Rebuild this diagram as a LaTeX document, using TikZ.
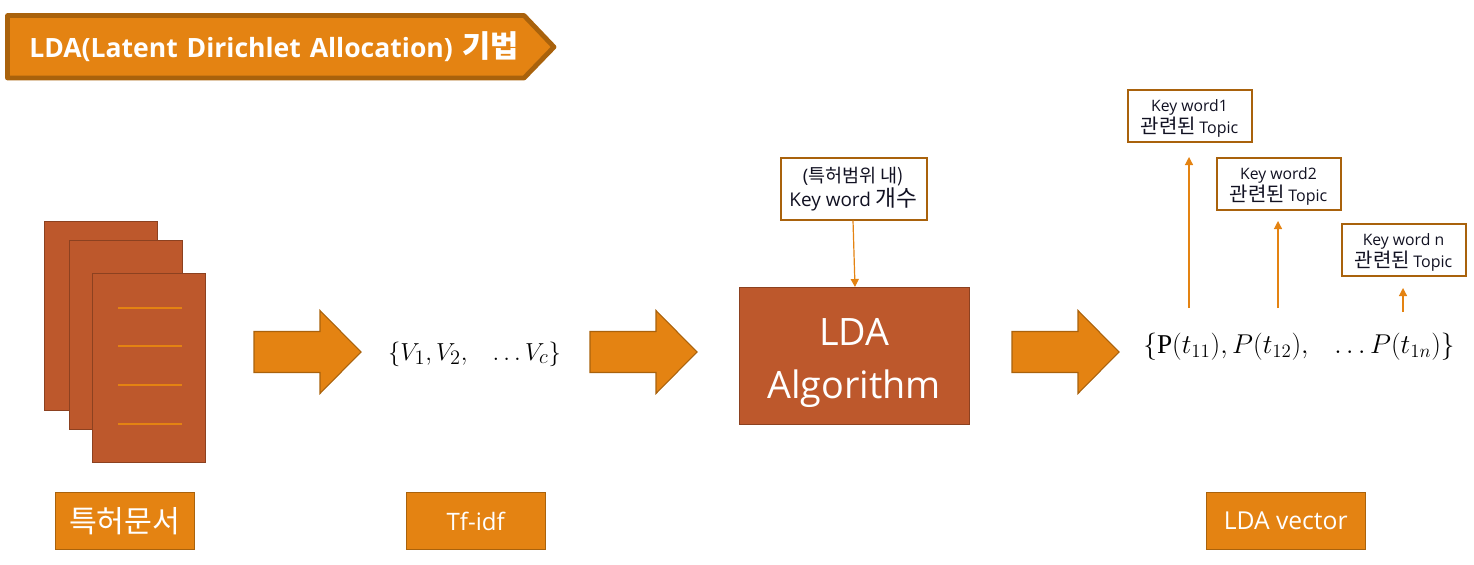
\documentclass[tikz,border=0pt]{standalone}
\usepackage{fontspec}
\setmainfont{Open Sans}
\newfontfamily\kr{Noto Sans CJK KR}
\newfontfamily\serifP{Liberation Serif}
\definecolor{orangeF}{HTML}{E48312}
\definecolor{orangeD}{HTML}{A9620C}
\definecolor{brickF}{HTML}{BD582C}
\definecolor{brickD}{HTML}{8C4120}
\definecolor{inkT}{HTML}{111122}
\usetikzlibrary{arrows.meta}
\tikzset{
  x=0.75pt,y=-0.75pt,
  sheet/.style={draw=brickD,fill=brickF,line width=1.1pt,minimum width=84.75pt,minimum height=141.75pt,inner sep=0pt},
  rule/.style={draw=orangeF,line width=0.9pt},
  blockarrow/.style={draw=orangeD,fill=orangeF,line width=0.8pt,line join=miter},
  tagbox/.style={draw=orangeD,fill=orangeF,line width=0.8pt,text=white,inner sep=0pt,minimum height=42.75pt,font=\fontsize{18}{21}\selectfont},
  notebox/.style={draw=orangeD,fill=white,line width=1.5pt,inner sep=0pt,align=center,text=inkT,minimum height=39pt,minimum width=93pt},
  thin arrow/.style={draw=orangeF,line width=0.9pt,-{Triangle[width=6pt,length=6pt]}},
  mathtext/.style={inner sep=0pt,text=black},
}
\newcommand{\BlockArrow}[2]{%
  \draw[blockarrow] (#1,#2-20.5) -- ++(66,0) -- ++(0,-21) -- ++(41,41.5) -- ++(-41,41.5) -- ++(0,-21) -- ++(-66,0) -- cycle;}
\newcommand{\TopicLine}{{\kr\fontsize{15}{20}\selectfont 관련된} {\fontsize{12}{20}\selectfont Topic}}
\begin{document}
\begin{tikzpicture}
\useasboundingbox (0,0) rectangle (1474,564);
% title
\draw[draw=orangeD,fill=orangeF,line width=3.6pt,line join=round]
  (7.5,15.5) -- (524,15.5) -- (554,47) -- (524,78) -- (7.5,78) -- cycle;
\node[text=white,anchor=west,inner sep=0pt,font=\fontsize{19.9}{23}\selectfont\bfseries] (title) at (29,46.5) {LDA(Latent\hspace{1.5pt} Dirichlet\hspace{1.5pt} Allocation)\hspace{2pt} {\kr\fontsize{23}{23}\selectfont 기법}};
% documents
\node[sheet,anchor=north west] (doc1) at (44,220.5) {};
\node[sheet,anchor=north west] (doc2) at (68.5,239.5) {};
\node[sheet,anchor=north west] (doc3) at (92,272.5) {};
\foreach \y in {308,346,385,424} \draw[rule] (118,\y) -- (182,\y);
% block arrows
\BlockArrow{254}{352}
\BlockArrow{590}{352}
\BlockArrow{1012}{352}
% labels
\node[tagbox,minimum width=104.5pt,anchor=north west] (tag1) at (54.5,492) {\kr\fontsize{22.7}{26}\selectfont 특허문서};
\node[tagbox,minimum width=104.5pt,anchor=north west] (tag2) at (405.5,492) {Tf-idf};
\node[tagbox,minimum width=119.5pt,anchor=north west,font=\fontsize{18.5}{22}\selectfont] (tag3) at (1205.5,492) {LDA vector};
% formulae
\node[mathtext,font=\fontsize{19}{23}\selectfont,scale=1.068] (vvec) at (474.5,354) {$\{V_1,V_2,\ \ \ \dots V_c\}$};
\node[mathtext,font=\fontsize{20.7}{25}\selectfont,scale=0.985] (pvec) at (1299,347) {$\{\mbox{\serifP P}(t_{11}),P(t_{12}),\ \ \ \dots P(t_{1n})\}$};
% LDA box
\node[draw=brickD,fill=brickF,line width=1.1pt,anchor=north west,minimum width=172.5pt,minimum height=102.75pt,inner sep=0pt,align=center,text=white,font=\fontsize{28.3}{39.5}\selectfont] (lda) at (738.5,286.5) {\rule{0pt}{31pt}LDA\\Algorithm};
% note boxes
\node[notebox,anchor=north west,minimum width=109.5pt,minimum height=47pt] (kw) at (779.5,156.5) {{\fontsize{13.9}{18}\selectfont (\kr 특허범위 내)}\\[0pt]{\fontsize{14.2}{19}\selectfont Key word {\kr\fontsize{17}{19}\selectfont 개수}}};
\node[notebox,anchor=north west] (k1) at (1126.5,88.5) {\rule{0pt}{13pt}{\fontsize{11.8}{17}\selectfont Key word1}\\\TopicLine};
\node[notebox,anchor=north west] (k2) at (1215.5,156.5) {\rule{0pt}{13pt}{\fontsize{11.8}{17}\selectfont Key word2}\\\TopicLine};
\node[notebox,anchor=north west] (k3) at (1340.5,222.5) {\rule{0pt}{13pt}{\fontsize{11.8}{17}\selectfont Key word n}\\\TopicLine};
% connectors
\coordinate (kwb) at (853,220.5);
\coordinate (ldat) at (855,287);
\draw[thin arrow] (kwb) -- (ldat);
\coordinate (a1s) at (1189,308); \coordinate (a1e) at (1189,157);
\coordinate (a2s) at (1278,308); \coordinate (a2e) at (1278,221);
\coordinate (a3s) at (1403,312); \coordinate (a3e) at (1403,288);
\draw[thin arrow] (a1s) -- (a1e);
\draw[thin arrow] (a2s) -- (a2e);
\draw[thin arrow] (a3s) -- (a3e);
\end{tikzpicture}
\end{document}
